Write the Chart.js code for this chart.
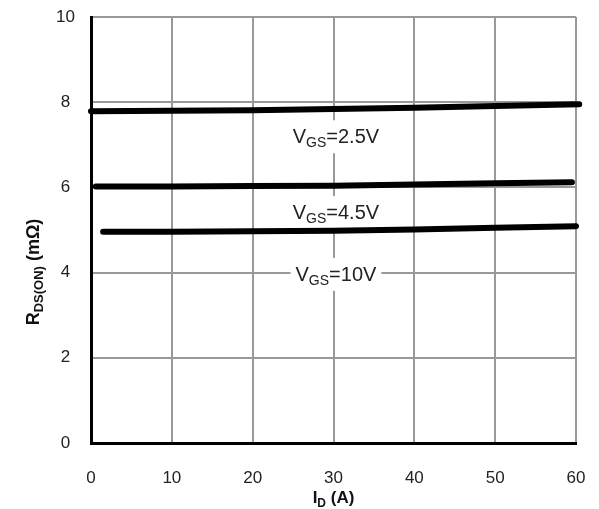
<!DOCTYPE html>
<html><head><meta charset="utf-8">
<script src="https://cdn.jsdelivr.net/npm/chart.js@4/dist/chart.umd.min.js"></script>
<style>html,body{margin:0;padding:0;background:#fff;}#wrap{width:599px;height:509px;}</style>
</head><body><div id="wrap"><canvas id="c" width="599" height="509"></canvas></div>
<script>
// Tick labels
const xTicks = [0, 10, 20, 30, 40, 50, 60];
const yTicks = [0, 2, 4, 6, 8, 10];
// Series: I_D (A) vs R_DS(ON) (mOhm)
const id25 = [0, 10, 20, 30, 40, 50, 60.4];
const r25  = [7.79, 7.80, 7.81, 7.84, 7.87, 7.91, 7.95];
const id45 = [0.6, 10, 20, 30, 40, 50, 59.5];
const r45  = [6.02, 6.02, 6.03, 6.04, 6.07, 6.10, 6.12];
const id10 = [1.5, 10, 20, 30, 40, 50, 60];
const r10  = [4.96, 4.96, 4.97, 4.98, 5.01, 5.05, 5.09];
const seriesNames = ['2.5V', '4.5V', '10V'];
const labelX = [30.3, 30.3, 30.3];
const labelY = [7.2, 5.42, 3.97];

const FONT = "'Liberation Sans', Arial, sans-serif";
Chart.defaults.font.family = FONT;

function measureParts(ctx, parts) {
  let w = 0;
  parts.forEach(p => { ctx.font = (p.bold ? 'bold ' : '') + p.size + 'px ' + FONT; p.w = ctx.measureText(p.t).width; w += p.w; });
  return w;
}
function drawParts(ctx, cx, cy, parts) {
  const w = measureParts(ctx, parts);
  let x = cx - w / 2;
  ctx.textAlign = 'left';
  ctx.textBaseline = 'alphabetic';
  parts.forEach(p => {
    ctx.font = (p.bold ? 'bold ' : '') + p.size + 'px ' + FONT;
    ctx.fillText(p.t, x, cy + (p.dy || 0));
    x += p.w;
  });
  return w;
}
function labelParts(name) {
  return [{t: 'V', size: 20}, {t: 'GS', size: 14, dy: 4}, {t: '=' + name, size: 20}];
}

const annotations = {
  id: 'annotations',
  beforeDatasetsDraw(chart) {
    const ctx = chart.ctx;
    const xs = chart.scales.x, ys = chart.scales.y;
    ctx.save();
    ctx.fillStyle = '#fff';
    seriesNames.forEach((name, i) => {
      const cx = xs.getPixelForValue(labelX[i]);
      const cy = ys.getPixelForValue(labelY[i]);
      const w = measureParts(ctx, labelParts(name));
      ctx.fillRect(cx - w / 2 - 5, cy - 16, w + 10, 33);
    });
    ctx.restore();
  },
  afterDraw(chart) {
    const ctx = chart.ctx;
    const xs = chart.scales.x, ys = chart.scales.y;
    ctx.save();
    ctx.fillStyle = '#222';
    seriesNames.forEach((name, i) => {
      const cx = xs.getPixelForValue(labelX[i]);
      const cy = ys.getPixelForValue(labelY[i]);
      drawParts(ctx, cx, cy + 7, labelParts(name));
    });
    // x-axis title
    ctx.fillStyle = '#111';
    const xc = (chart.chartArea.left + chart.chartArea.right) / 2;
    drawParts(ctx, xc, 503, [{t: 'I', size: 17, bold: true}, {t: 'D', size: 12, bold: true, dy: 4}, {t: ' (A)', size: 17, bold: true}]);
    // y-axis title
    ctx.translate(39, 272);
    ctx.rotate(-Math.PI / 2);
    drawParts(ctx, 0, 0, [{t: 'R', size: 18, bold: true}, {t: 'DS(ON)', size: 13, bold: true, dy: 4}, {t: ' (m\u03A9)', size: 18, bold: true}]);
    ctx.restore();
  }
};

function ds(xsArr, ysArr) {
  return {
    data: xsArr.map((x, i) => ({x: x, y: ysArr[i]})),
    borderColor: '#000', backgroundColor: '#000', borderWidth: 6,
    pointRadius: 0, tension: 0, borderCapStyle: 'round', borderJoinStyle: 'round', clip: false, fill: false
  };
}

new Chart(document.getElementById('c'), {
  type: 'line',
  data: {datasets: [ds(id25, r25), ds(id45, r45), ds(id10, r10)]},
  options: {
    responsive: false, animation: false, devicePixelRatio: 1,
    layout: {padding: {top: 17, right: 23, left: 0, bottom: 0}},
    plugins: {legend: {display: false}, tooltip: {enabled: false}},
    scales: {
      x: {
        type: 'linear', min: 0, max: 60,
        afterBuildTicks: s => { s.ticks = xTicks.map(v => ({value: v})); },
        grid: {color: '#999', lineWidth: 2, drawTicks: false},
        border: {color: '#000', width: 3},
        ticks: {padding: 25, font: {size: 17}, color: '#222', maxRotation: 0, autoSkip: false},
        afterFit: s => { s.height = 66; s.paddingLeft = 0; s.paddingRight = 0; }
      },
      y: {
        type: 'linear', min: 0, max: 10,
        afterBuildTicks: s => { s.ticks = yTicks.map(v => ({value: v})); },
        grid: {color: '#999', lineWidth: 2, drawTicks: false},
        border: {color: '#000', width: 3},
        ticks: {padding: 16, crossAlign: 'center', font: {size: 17}, color: '#222', autoSkip: false},
        afterFit: s => { s.width = 91; s.paddingTop = 0; s.paddingBottom = 0; }
      }
    }
  },
  plugins: [annotations]
});
</script></body></html>
